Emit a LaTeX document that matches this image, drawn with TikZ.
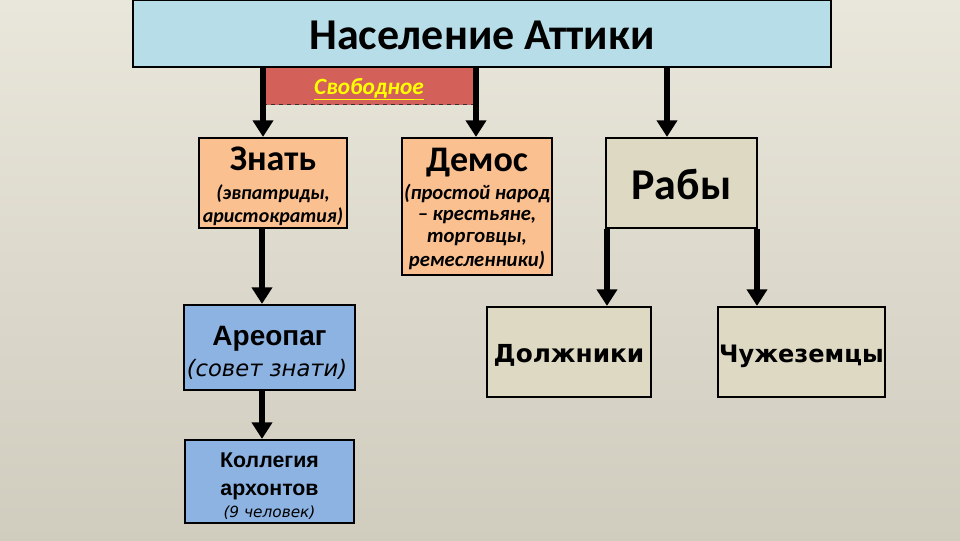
\documentclass[tikz,border=0pt]{standalone}
\usepackage{fontspec}
\setmainfont{Carlito}
\newfontfamily\lib{Liberation Sans}
\newfontfamily\dvs{DejaVu Sans}
\usetikzlibrary{arrows.meta}
\definecolor{bgtop}{HTML}{E9E6DB}
\definecolor{bgbot}{HTML}{D0CCBE}
\definecolor{titlefill}{HTML}{B7DDE8}
\definecolor{redfill}{HTML}{D4605A}
\definecolor{orangefill}{HTML}{FAC090}
\definecolor{beigefill}{HTML}{DDD9C3}
\definecolor{bluefill}{HTML}{8DB3E2}
\definecolor{yel}{HTML}{FFFF00}
\tikzset{
  box/.style={draw=black, line width=1.6pt, inner sep=0pt},
  arr/.style={line width=4pt, -{Triangle[length=12.5pt,width=15pt]}},
  txt/.style={anchor=base, inner sep=0pt},
}
\begin{document}
\begin{tikzpicture}[x=0.75pt,y=-0.75pt]
\shade[top color=bgtop, bottom color=bgbot] (0,0) rectangle (960,540);
\useasboundingbox (0,0) rectangle (960,540);
% boxes
\node[box, fill=titlefill, minimum width=523.5pt, minimum height=50.25pt] (title) at (482,33.5) {};
\node[fill=redfill, inner sep=0pt, minimum width=159.75pt, minimum height=27.75pt] (free) at (369.5,86) {};
\draw[dashed, line width=0.8pt, black!80] (free.south west) -- (free.south east);
\node[box, fill=orangefill, minimum width=111pt, minimum height=67.5pt] (zn) at (273,183) {};
\node[box, fill=orangefill, minimum width=112.5pt, minimum height=102.75pt] (dem) at (477,206.5) {};
\node[box, fill=beigefill, minimum width=113.25pt, minimum height=67.5pt] (rab) at (681.5,183) {};
\node[box, fill=bluefill, minimum width=128.25pt, minimum height=63.75pt] (are) at (269.5,347.5) {};
\node[box, fill=bluefill, minimum width=126.75pt, minimum height=62.25pt] (kol) at (269.5,481.5) {};
\node[box, fill=beigefill, minimum width=123pt, minimum height=67.5pt] (dol) at (569,352) {};
\node[box, fill=beigefill, minimum width=125.25pt, minimum height=67.5pt] (chu) at (801.5,352) {};
% texts
\node[txt, font=\fontsize{33}{33}\selectfont\bfseries] (t0) at (482,49) {Население Аттики};
\node[txt, text=yel, font=\fontsize{17.5}{17.5}\selectfont\bfseries\itshape] (t1) at (369,94) {\underline{Свободное}};
\node[txt, font=\fontsize{27}{27}\selectfont\bfseries] (t2) at (273,170) {Знать};
\node[txt, font=\fontsize{15}{15}\selectfont\bfseries\itshape] (t3) at (273,199) {(эвпатриды,};
\node[txt, font=\fontsize{15}{15}\selectfont\bfseries\itshape] (t4) at (273,222) {аристократия)};
\node[txt, font=\fontsize{27}{27}\selectfont\bfseries] (t5) at (477,171) {Демос};
\node[txt, font=\fontsize{15.5}{15.5}\selectfont\bfseries\itshape] (t6) at (477,199) {(простой народ};
\node[txt, font=\fontsize{15.5}{15.5}\selectfont\bfseries\itshape] (t7) at (477,220) {– крестьяне,};
\node[txt, font=\fontsize{15.5}{15.5}\selectfont\bfseries\itshape] (t8) at (477,242) {торговцы,};
\node[txt, font=\fontsize{15.5}{15.5}\selectfont\bfseries\itshape] (t9) at (477,266) {ремесленники)};
\node[txt, font=\fontsize{33}{33}\selectfont\bfseries] (t10) at (681.5,199) {Рабы};
\node[txt, font=\fontsize{21}{21}\selectfont\lib\bfseries] (t11) at (269.5,345) {Ареопаг};
\node[txt, font=\fontsize{17}{17}\selectfont\dvs\itshape] (t12) at (267,376) {(совет знати)};
\node[txt, font=\fontsize{16}{16}\selectfont\lib\bfseries] (t13) at (269.5,467) {Коллегия};
\node[txt, font=\fontsize{16}{16}\selectfont\lib\bfseries] (t14) at (269.5,495) {архонтов};
\node[txt, font=\fontsize{11.5}{11.5}\selectfont\dvs\itshape] (t15) at (269.5,517) {(9 человек)};
\node[txt, font=\fontsize{18.6}{18.6}\selectfont\dvs\bfseries] (t16) at (569,362) {Должники};
\node[txt, font=\fontsize{18}{18}\selectfont\dvs\bfseries] (t17) at (801.5,362) {Чужеземцы};
% connector x positions
\coordinate (xa) at (263,0);
\coordinate (xb) at (476,0);
\coordinate (xc) at (667,0);
\coordinate (xd) at (262,0);
\coordinate (xe) at (607,0);
\coordinate (xf) at (757,0);
\draw[arr] (title.south -| xa) -- (zn.north -| xa);
\draw[arr] (title.south -| xb) -- (dem.north -| xb);
\draw[arr] (title.south -| xc) -- (rab.north -| xc);
\draw[arr] (zn.south -| xd) -- (are.north -| xd);
\draw[arr] (are.south -| xd) -- (kol.north -| xd);
\draw[arr] (rab.south -| xe) -- (dol.north -| xe);
\draw[arr] (rab.south -| xf) -- (chu.north -| xf);
\end{tikzpicture}
\end{document}
